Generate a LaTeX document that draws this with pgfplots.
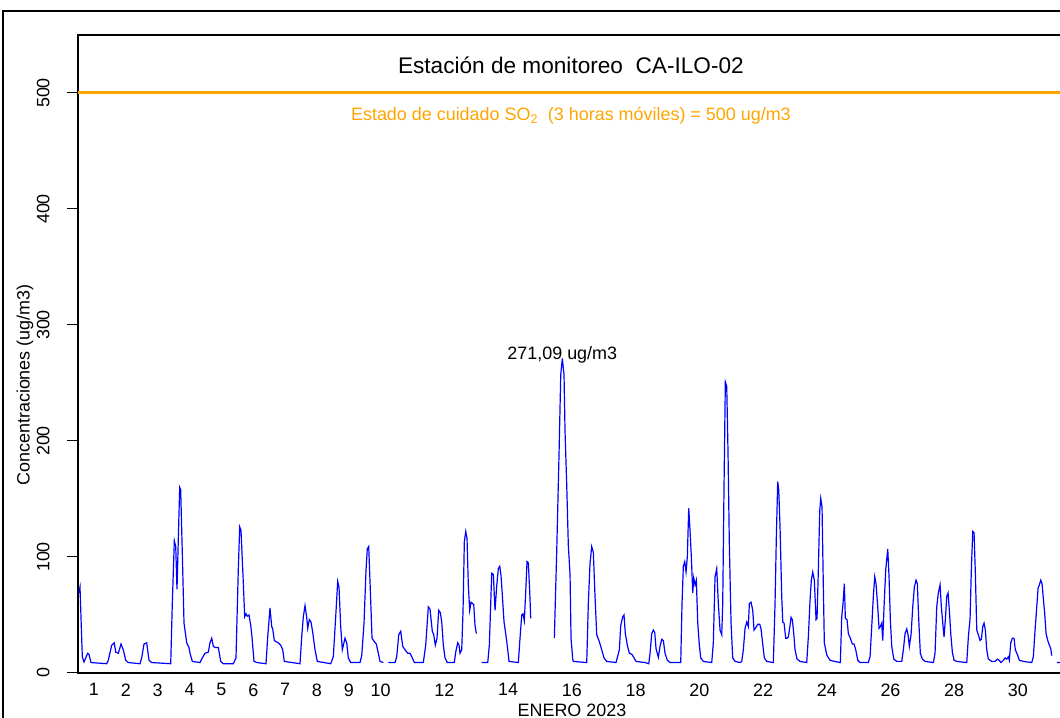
\documentclass[border=0pt]{standalone}
\usepackage{pgfplots}
\pgfplotsset{compat=1.18}
\usepackage{fontspec}
\setmainfont{Liberation Sans}
\definecolor{rblue}{RGB}{0,0,255}
\definecolor{rorange}{RGB}{255,165,0}

\pgfplotstableread{
t v
0.031 69
0.063 74
0.135 14
0.188 9.5
0.304 17
0.345 16
0.408 9
0.901 8
0.951 11
1.058 24
1.139 26
1.183 18
1.265 17
1.350 25
1.422 20
1.497 11
1.579 9
1.946 8
1.999 13
2.072 25
2.156 26
2.229 11
2.313 9
2.910 8
2.960 60
3.023 114
3.067 109
3.107 72
3.148 115
3.192 160
3.223 158
3.274 103
3.327 43
3.412 26
3.484 22
3.515 17
3.588 10
3.829 9
3.901 13
3.986 17
4.090 18
4.143 26
4.197 30
4.247 23
4.300 22
4.353 22
4.404 22
4.479 10
4.561 8
4.875 8
4.959 13
5.031 89
5.075 126
5.116 123
5.188 78
5.232 48.5
5.273 51
5.314 49
5.367 50
5.421 41
5.461 31
5.524 10
5.618 9
5.901 8
5.954 31
6.026 56
6.080 40
6.111 38
6.161 28
6.215 27
6.287 26
6.362 24
6.425 20
6.475 10
6.968 8
7.021 31
7.072 48.5
7.125 58
7.178 48
7.210 38.5
7.260 46
7.313 44
7.367 35
7.439 20
7.511 10
7.932 8
8.013 14
8.088 48.5
8.151 79
8.192 74
8.245 40
8.296 20
8.380 30
8.434 26
8.484 13
8.559 9
8.851 9
8.905 15
8.977 43
9.040 89
9.080 107
9.124 109
9.165 79
9.228 30
9.300 27
9.363 25
9.426 17
9.479 10
9.583 9
9.66 nan
9.739 9
9.950 9
10.003 14
10.066 33
10.129 36
10.191 23
10.264 20
10.349 17
10.421 17
10.493 13
10.556 9
10.838 9
10.913 24
10.995 57
11.048 55
11.120 36
11.164 33
11.215 24
11.268 30
11.321 54
11.372 52
11.416 44
11.466 24
11.519 13
11.591 9
11.811 9
11.855 18
11.918 26
11.959 24
11.990 17
12.043 20
12.084 53
12.125 113
12.169 122
12.210 116
12.250 76
12.294 54
12.335 61
12.420 59
12.461 41
12.502 34
12.59 nan
12.671 9
12.860 9
12.910 24
12.985 86
13.035 85
13.089 54
13.142 75
13.192 90
13.236 92
13.277 84
13.318 67
13.371 44
13.424 34
13.475 23
13.528 10
13.820 9
13.873 30
13.927 50
13.967 51
14.008 45
14.052 70
14.093 96
14.134 95
14.178 70
14.209 47
14.5 nan
14.950 30
15.025 105
15.097 188
15.151 257
15.201 271.09
15.254 257
15.286 208
15.339 162
15.389 110
15.443 85
15.474 30
15.527 12
15.546 10
15.967 9
16.017 60
16.070 94.5
16.123 109
16.174 104
16.227 66
16.281 33
16.362 27
16.438 20
16.510 13
16.594 10
16.886 9
16.990 20
17.034 41
17.097 48.5
17.137 50
17.178 34
17.241 24
17.304 17
17.388 16
17.451 13
17.514 10
17.797 9
17.913 8
17.954 17
18.007 34
18.057 37
18.101 35
18.142 21
18.214 13.5
18.267 23
18.321 29
18.371 28
18.424 17
18.496 11
18.581 9
18.917 9
18.958 60
18.999 92
19.043 96
19.084 87
19.124 100
19.168 142
19.209 123
19.250 100
19.294 69
19.325 82
19.366 76
19.407 80
19.451 43
19.501 24
19.545 13
19.626 10
19.890 9
19.940 26
19.994 83
20.047 90
20.097 60
20.151 37
20.204 33
20.235 60
20.276 161
20.317 251
20.361 247
20.402 189
20.442 112
20.496 43
20.549 13
20.621 10
20.778 9
20.832 10
20.882 20
20.936 38.5
20.989 44
21.039 40
21.071 60
21.124 61
21.177 54
21.218 37
21.271 39
21.334 42
21.397 42
21.437 38
21.478 28
21.541 13
21.616 10
21.824 9
21.877 60
21.918 117.5
21.961 165
21.993 158
22.034 126
22.087 66
22.119 44
22.160 43
22.213 30
22.254 30
22.295 31
22.348 41
22.379 48
22.420 46
22.464 34
22.505 20
22.567 12
22.662 10
22.872 9
22.922 31
22.976 63
23.016 80
23.060 87
23.110 80
23.164 46
23.195 47
23.236 89
23.280 140
23.311 150.5
23.352 143
23.393 74
23.424 26
23.500 15.5
23.603 11
23.738 10
23.927 9
23.970 48.5
24.011 60
24.052 77
24.084 47
24.137 46
24.178 34
24.240 30
24.303 25
24.356 25
24.410 20
24.473 11
24.545 9
24.805 9
24.859 14
24.912 40
24.962 66
25.006 83
25.047 77
25.100 57
25.141 38.5
25.182 40
25.226 43
25.257 28
25.298 57
25.351 89
25.414 107
25.455 83
25.496 46
25.540 23
25.603 12
25.697 10
25.854 10
25.904 20
25.958 34
26.011 38
26.052 33
26.092 23
26.146 33
26.199 57
26.249 74
26.303 80
26.343 77
26.387 46
26.437 17
26.500 12
26.585 10
26.846 9
26.899 17
26.952 57
27.002 69
27.056 76
27.097 57
27.141 43
27.181 31
27.222 46
27.266 66
27.307 69
27.348 54
27.392 34
27.442 18
27.495 11
27.580 10
27.894 9
27.944 31
27.998 47
28.038 89
28.082 122
28.123 121
28.164 86
28.208 37
28.258 33
28.311 28
28.352 29
28.396 40
28.437 43
28.478 37
28.521 20
28.572 12
28.678 10
28.782 10
28.854 12
28.908 11
28.970 9
29.043 11
29.096 13
29.149 12
29.199 14
29.231 11
29.275 26
29.325 30
29.378 30
29.419 20
29.482 16
29.545 11
29.670 10
29.934 9
29.984 14
30.038 37
30.091 57
30.132 73
30.173 76
30.216 80
30.257 77
30.298 64
30.342 51
30.383 34
30.436 28
30.487 24
30.530 21
30.562 15
30.64 nan
30.719 9
30.823 9
30.948 9
}\sotwo

\begin{document}
\begin{tikzpicture}[x=1bp,y=1bp]
\useasboundingbox (0,0) rectangle (1060,718);
\fill[white] (0,0) rectangle (1060,718);
\draw[line width=1.5bp] (3,-30) -- (3,707) -- (1120,707);
\begin{axis}[
  at={(78bp,45bp)}, anchor=south west,
  scale only axis, width=987.7bp, height=638bp,
  xmin=0, xmax=31, ymin=0, ymax=550,
  axis line style={line width=1.2bp},
  xtick={0.5,1.5,2.5,3.5,4.5,5.5,6.5,7.5,8.5,9.5,11.5,13.5,15.5,17.5,19.5,21.5,23.5,25.5,27.5,29.5},
  xticklabels={1,2,3,4,5,6,7,8,9,10,12,14,16,18,20,22,24,26,28,30},
  xtick style={draw=none},
  xtick pos=bottom, ytick pos=left,
  ytick={0,100,200,300,400,500},
  tick align=outside,
  major tick length=11bp,
  ytick style={line width=1bp, black},
  /pgf/number format/assume math mode=true,
  ticklabel style={font=\fontsize{18}{20}\selectfont},
  yticklabel style={rotate=90, anchor=south},
  yticklabel shift=14bp,
  xticklabel shift=-4bp,
  unbounded coords=jump,
  clip=true,
]
\addplot[rorange, line width=3bp, forget plot] coordinates {(0,500) (31,500)};
\addplot[rblue, line width=1.2bp, mark=none] table[x=t,y=v] {\sotwo};
\node[font=\fontsize{22.7}{24}\selectfont] at (axis cs:15.47,523.5) {Estación de monitoreo\ \ CA-ILO-02};
\node[rorange, font=\fontsize{18}{20}\selectfont] at (axis cs:15.47,480) {Estado de cuidado SO\textsubscript{2}\ \ (3 horas móviles) = 500 ug/m3};
\node[font=\fontsize{18}{20}\selectfont] at (axis cs:15.2,274) {271,09 ug/m3};
\end{axis}
\node[font=\fontsize{18}{20}\selectfont] at (572,8) {ENERO 2023};
\node[font=\fontsize{18}{20}\selectfont, rotate=90] at (25,333) {Concentraciones (ug/m3)};
\end{tikzpicture}
\end{document}
